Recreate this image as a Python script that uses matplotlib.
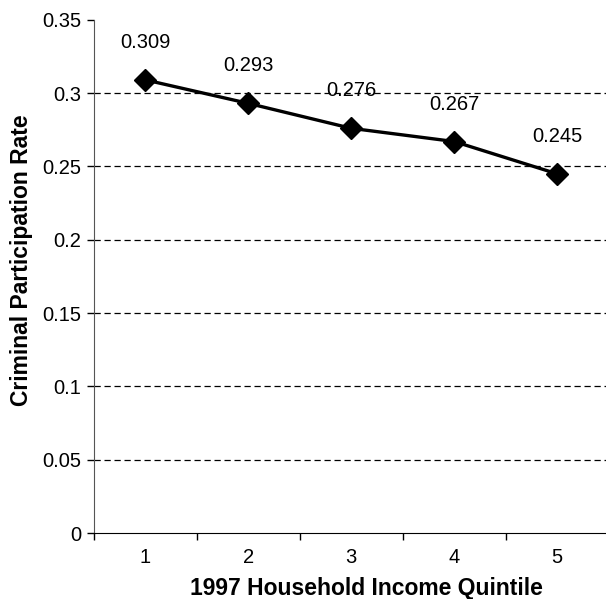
import matplotlib
matplotlib.use("Agg")
import matplotlib.pyplot as plt

quintiles = [1, 2, 3, 4, 5]
rates = [0.309, 0.293, 0.276, 0.267, 0.245]
y_ticks = [0, 0.05, 0.1, 0.15, 0.2, 0.25, 0.3, 0.35]
y_labels = ["0", "0.05", "0.1", "0.15", "0.2", "0.25", "0.3", "0.35"]

plt.rcParams["font.family"] = ["Liberation Sans", "DejaVu Sans"]

fig = plt.figure(figsize=(6.06, 5.99), dpi=100)
ax = fig.add_axes([0.155, 0.110, 0.849, 0.857])

# dashed gridlines at the inner ticks only
for y in y_ticks[1:-1]:
    ax.axhline(y, color="black", linestyle=(0, (5, 3)), linewidth=0.9, zorder=1)

ax.plot(quintiles, rates, color="black", linewidth=2.4, marker="D",
        markersize=11, zorder=3, clip_on=False)
for x, y in zip(quintiles, rates):
    ax.annotate(f"{y:.3f}", (x, y), xytext=(0, 27), textcoords="offset points",
                ha="center", va="center", fontsize=14.5)

ax.set_xlim(0.5, 5.5)
ax.set_ylim(0, 0.35)
ax.set_yticks(y_ticks)
ax.set_yticklabels(y_labels, fontsize=14.5)
ax.set_xticks(quintiles)
ax.set_xticklabels([str(q) for q in quintiles], fontsize=14.5)
ax.set_xticks([q + 0.5 for q in quintiles[:-1]] + [0.5], minor=True)
ax.tick_params(axis="x", which="major", length=0, pad=11)
ax.tick_params(axis="x", which="minor", length=5, direction="out", width=1)
ax.tick_params(axis="y", length=5, direction="out", width=1, pad=4)

for side in ["top", "right"]:
    ax.spines[side].set_visible(False)
ax.spines["left"].set_color("#555555")
ax.spines["bottom"].set_color("black")

ax.set_xlabel("1997 Household Income Quintile", fontsize=16.5, fontweight="bold", labelpad=4)
ax.set_ylabel("Criminal Participation Rate", fontsize=16.5, fontweight="bold", labelpad=7)
ax.xaxis.set_label_coords(0.529, -0.085)
ax.yaxis.get_label().set_y(0.532)

fig.savefig("out.png", dpi=100)
